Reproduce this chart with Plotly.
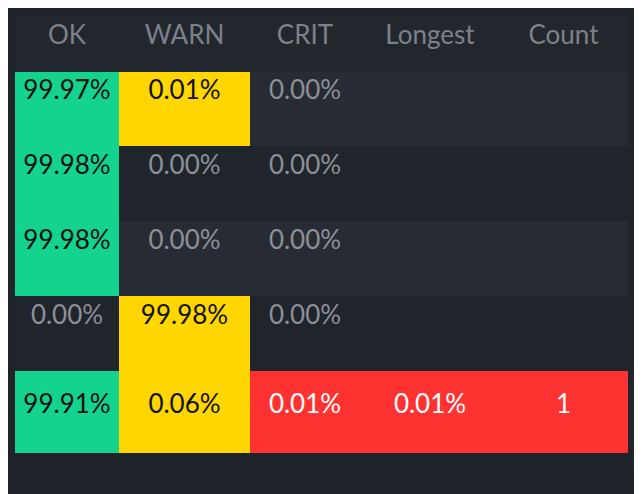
import plotly.graph_objects as go

headers = ["OK", "WARN", "CRIT", "Longest", "Count"]
ok = ["99.97%", "99.98%", "99.98%", "0.00%", "99.91%"]
warn = ["0.01%", "0.00%", "0.00%", "99.98%", "0.06%"]
crit = ["0.00%", "0.00%", "0.00%", "0.00%", "0.01%"]
longest = ["", "", "", "", "0.01%"]
count = ["", "", "", "", "1"]

GREEN, YELLOW, RED = "#13d38e", "#ffd600", "#ff3232"
ROW_A, ROW_B = "#272c34", "#20252c"
GREY, BLACK, WHITE = "#8c9097", "#111111", "#ffffff"

def cell_style(val, col, i):
    # background and text colour for a cell
    base = ROW_A if i % 2 == 0 else ROW_B
    if i == 4:
        base = RED
    if col == "ok" and val != "0.00%":
        return GREEN, BLACK
    if col == "warn" and val != "0.00%":
        return YELLOW, BLACK
    if base == RED:
        return RED, WHITE
    return base, GREY

cols = {"ok": ok, "warn": warn, "crit": crit, "longest": longest, "count": count}
fills, fcolors, values = [], [], []
for name, vals in cols.items():
    f, c = zip(*[cell_style(v, name, i) for i, v in enumerate(vals)])
    fills.append(list(f))
    fcolors.append(list(c))
    # last row is taller in the original
    values.append(vals[:4] + ["<br>" + vals[4] + "<br> "])

fig = go.Figure(go.Table(
    domain=dict(x=[7 / 642, 619 / 642], y=[23 / 494, 1 - 8 / 494]),
    columnwidth=[104, 131, 110, 140, 127],
    header=dict(values=headers, fill_color="#22272e", line_color="#22272e",
                font=dict(family="Lato", size=26, color="#7d8189"),
                align="center", height=55),
    cells=dict(values=values, fill_color=fills, line_color=fills,
               font=dict(family="Lato", size=26, color=fcolors),
               align="center", height=75),
))
fig.update_layout(width=642, height=494, margin=dict(l=0, r=0, t=0, b=0),
                  paper_bgcolor="#1e2229")
fig.write_html("out.html")
